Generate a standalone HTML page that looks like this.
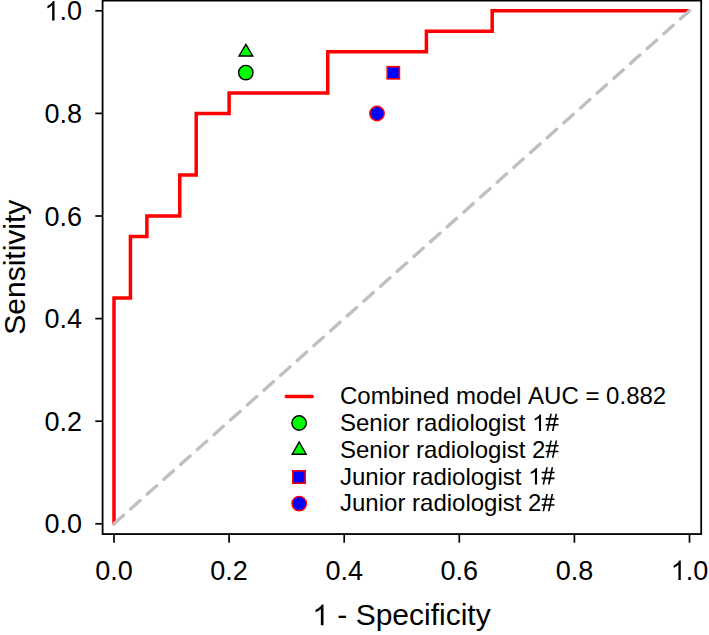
<!DOCTYPE html>
<html><head><meta charset="utf-8"><style>
html,body{margin:0;padding:0;background:#fff;}
body{width:709px;height:635px;overflow:hidden;}
svg{display:block;}
text{font-kerning:none;}
</style></head><body>
<svg width="709" height="635" viewBox="0 0 709 635">
<rect width="709" height="635" fill="#fff"/>
<polyline points="114.00,523.80 114.00,298.08 130.44,298.08 130.44,236.52 146.89,236.52 146.89,216.00 179.77,216.00 179.77,174.96 196.21,174.96 196.21,113.40 229.10,113.40 229.10,92.88 327.76,92.88 327.76,51.84 426.41,51.84 426.41,31.32 492.19,31.32 492.19,10.80 689.50,10.80" fill="none" stroke="#ff0000" stroke-width="3.5" stroke-linejoin="miter" stroke-linecap="butt"/>
<circle cx="114.00" cy="523.80" r="1.75" fill="#ff0000"/>
<line x1="114.00" y1="523.80" x2="689.50" y2="10.80" stroke="#c0c0c0" stroke-width="3.4" stroke-dasharray="12.6 9.72" stroke-linecap="round"/>
<rect x="102.6" y="0.6" width="598.6" height="533.45" fill="none" stroke="#000" stroke-width="1.8"/>
<line x1="95.3" y1="523.80" x2="102.6" y2="523.80" stroke="#000" stroke-width="1.7"/>
<line x1="114.00" y1="533.9" x2="114.00" y2="542.7" stroke="#000" stroke-width="1.7"/>
<g transform="translate(44.47,533.40) scale(1,1.04)"><text x="0" y="0" font-family="&quot;Liberation Sans&quot;, sans-serif" font-size="27" fill="#000">0.0</text></g>
<g transform="translate(95.23,579.90) scale(1,1.04)"><text x="0" y="0" font-family="&quot;Liberation Sans&quot;, sans-serif" font-size="27" fill="#000">0.0</text></g>
<line x1="95.3" y1="421.20" x2="102.6" y2="421.20" stroke="#000" stroke-width="1.7"/>
<line x1="229.10" y1="533.9" x2="229.10" y2="542.7" stroke="#000" stroke-width="1.7"/>
<g transform="translate(44.47,430.80) scale(1,1.04)"><text x="0" y="0" font-family="&quot;Liberation Sans&quot;, sans-serif" font-size="27" fill="#000">0.2</text></g>
<g transform="translate(210.33,579.90) scale(1,1.04)"><text x="0" y="0" font-family="&quot;Liberation Sans&quot;, sans-serif" font-size="27" fill="#000">0.2</text></g>
<line x1="95.3" y1="318.60" x2="102.6" y2="318.60" stroke="#000" stroke-width="1.7"/>
<line x1="344.20" y1="533.9" x2="344.20" y2="542.7" stroke="#000" stroke-width="1.7"/>
<g transform="translate(44.47,328.20) scale(1,1.04)"><text x="0" y="0" font-family="&quot;Liberation Sans&quot;, sans-serif" font-size="27" fill="#000">0.4</text></g>
<g transform="translate(325.43,579.90) scale(1,1.04)"><text x="0" y="0" font-family="&quot;Liberation Sans&quot;, sans-serif" font-size="27" fill="#000">0.4</text></g>
<line x1="95.3" y1="216.00" x2="102.6" y2="216.00" stroke="#000" stroke-width="1.7"/>
<line x1="459.30" y1="533.9" x2="459.30" y2="542.7" stroke="#000" stroke-width="1.7"/>
<g transform="translate(44.47,225.60) scale(1,1.04)"><text x="0" y="0" font-family="&quot;Liberation Sans&quot;, sans-serif" font-size="27" fill="#000">0.6</text></g>
<g transform="translate(440.53,579.90) scale(1,1.04)"><text x="0" y="0" font-family="&quot;Liberation Sans&quot;, sans-serif" font-size="27" fill="#000">0.6</text></g>
<line x1="95.3" y1="113.40" x2="102.6" y2="113.40" stroke="#000" stroke-width="1.7"/>
<line x1="574.40" y1="533.9" x2="574.40" y2="542.7" stroke="#000" stroke-width="1.7"/>
<g transform="translate(44.47,123.00) scale(1,1.04)"><text x="0" y="0" font-family="&quot;Liberation Sans&quot;, sans-serif" font-size="27" fill="#000">0.8</text></g>
<g transform="translate(555.63,579.90) scale(1,1.04)"><text x="0" y="0" font-family="&quot;Liberation Sans&quot;, sans-serif" font-size="27" fill="#000">0.8</text></g>
<line x1="95.3" y1="10.80" x2="102.6" y2="10.80" stroke="#000" stroke-width="1.7"/>
<line x1="689.50" y1="533.9" x2="689.50" y2="542.7" stroke="#000" stroke-width="1.7"/>
<g transform="translate(44.47,20.40) scale(1,1.04)"><text x="0" y="0" font-family="&quot;Liberation Sans&quot;, sans-serif" font-size="27" fill="#000"> .0</text><path d="M763 0L583 0L583 1097.9Q518 1038.6 465 1008.9Q412 979.2 359.5 949.5Q307 919.9 223 890.2L223 1056.8Q374 1124.7 430.5 1173.0Q487 1221.4 543.5 1269.7Q600 1318.1 647 1409.0L763 1409.0Z" fill="#000" transform="translate(0.00,0) scale(0.01318,-0.01318)"/></g>
<g transform="translate(670.73,579.90) scale(1,1.04)"><text x="0" y="0" font-family="&quot;Liberation Sans&quot;, sans-serif" font-size="27" fill="#000"> .0</text><path d="M763 0L583 0L583 1097.9Q518 1038.6 465 1008.9Q412 979.2 359.5 949.5Q307 919.9 223 890.2L223 1056.8Q374 1124.7 430.5 1173.0Q487 1221.4 543.5 1269.7Q600 1318.1 647 1409.0L763 1409.0Z" fill="#000" transform="translate(0.00,0) scale(0.01318,-0.01318)"/></g>
<g transform="translate(312.31,625.20) scale(1,1.0)"><text x="0" y="0" font-family="&quot;Liberation Sans&quot;, sans-serif" font-size="30" fill="#000">  - Specificity</text><path d="M763 0L583 0L583 1097.9Q518 1038.6 465 1008.9Q412 979.2 359.5 949.5Q307 919.9 223 890.2L223 1056.8Q374 1124.7 430.5 1173.0Q487 1221.4 543.5 1269.7Q600 1318.1 647 1409.0L763 1409.0Z" fill="#000" transform="translate(0.00,0) scale(0.01465,-0.01465)"/></g>
<text transform="translate(24.8,267.2) rotate(-90)" x="0" y="0" text-anchor="middle" font-family="&quot;Liberation Sans&quot;, sans-serif" font-size="30">Sensitivity</text>
<polygon points="245.90,44.30 252.80,56.00 239.00,56.00" fill="#00ff00" stroke="#000" stroke-width="1.4" stroke-linejoin="miter"/>
<circle cx="245.80" cy="72.60" r="7.2" fill="#00ff00" stroke="#000" stroke-width="1.4"/>
<rect x="387.20" y="66.70" width="12.2" height="12.2" fill="#0000ff" stroke="#ff0000" stroke-width="1.6"/>
<circle cx="377.00" cy="113.50" r="7.2" fill="#0000ff" stroke="#ff0000" stroke-width="1.4"/>
<line x1="286.3" y1="396.5" x2="312.2" y2="396.5" stroke="#ff0000" stroke-width="3.5" stroke-linecap="round"/>
<circle cx="299.10" cy="423.00" r="7.2" fill="#00ff00" stroke="#000" stroke-width="1.4"/>
<polygon points="299.20,442.00 306.20,454.20 292.20,454.20" fill="#00ff00" stroke="#000" stroke-width="1.4" stroke-linejoin="miter"/>
<rect x="292.80" y="470.80" width="12.4" height="12.4" fill="#0000ff" stroke="#ff0000" stroke-width="1.6"/>
<circle cx="299.20" cy="503.60" r="7.2" fill="#0000ff" stroke="#ff0000" stroke-width="1.4"/>
<g transform="translate(340.00,404.20) scale(1,1.0)"><text x="0" y="0" font-family="&quot;Liberation Sans&quot;, sans-serif" font-size="24" fill="#000">Combined model AUC = 0.882</text></g>
<g transform="translate(340.00,430.90) scale(1,1.0)"><text x="0" y="0" font-family="&quot;Liberation Sans&quot;, sans-serif" font-size="24" fill="#000">Senior radiologist   </text><path d="M763 0L583 0L583 1097.9Q518 1038.6 465 1008.9Q412 979.2 359.5 949.5Q307 919.9 223 890.2L223 1056.8Q374 1124.7 430.5 1173.0Q487 1221.4 543.5 1269.7Q600 1318.1 647 1409.0L763 1409.0Z" fill="#000" transform="translate(192.11,0) scale(0.01172,-0.01172)"/><path d="M21 455L1113 455L1113 595L21 595Z M21 954L1113 954L1113 1094L21 1094Z M92 0L232 0L548 1466L408 1466Z M553 0L693 0L1000 1466L860 1466Z" fill="#000" transform="translate(205.45,0) scale(0.01172,-0.01172)"/></g>
<g transform="translate(340.00,457.70) scale(1,1.0)"><text x="0" y="0" font-family="&quot;Liberation Sans&quot;, sans-serif" font-size="24" fill="#000">Senior radiologist 2 </text><path d="M21 455L1113 455L1113 595L21 595Z M21 954L1113 954L1113 1094L21 1094Z M92 0L232 0L548 1466L408 1466Z M553 0L693 0L1000 1466L860 1466Z" fill="#000" transform="translate(205.45,0) scale(0.01172,-0.01172)"/></g>
<g transform="translate(340.00,484.50) scale(1,1.0)"><text x="0" y="0" font-family="&quot;Liberation Sans&quot;, sans-serif" font-size="24" fill="#000">Junior radiologist   </text><path d="M763 0L583 0L583 1097.9Q518 1038.6 465 1008.9Q412 979.2 359.5 949.5Q307 919.9 223 890.2L223 1056.8Q374 1124.7 430.5 1173.0Q487 1221.4 543.5 1269.7Q600 1318.1 647 1409.0L763 1409.0Z" fill="#000" transform="translate(188.10,0) scale(0.01172,-0.01172)"/><path d="M21 455L1113 455L1113 595L21 595Z M21 954L1113 954L1113 1094L21 1094Z M92 0L232 0L548 1466L408 1466Z M553 0L693 0L1000 1466L860 1466Z" fill="#000" transform="translate(201.45,0) scale(0.01172,-0.01172)"/></g>
<g transform="translate(340.00,511.20) scale(1,1.0)"><text x="0" y="0" font-family="&quot;Liberation Sans&quot;, sans-serif" font-size="24" fill="#000">Junior radiologist 2 </text><path d="M21 455L1113 455L1113 595L21 595Z M21 954L1113 954L1113 1094L21 1094Z M92 0L232 0L548 1466L408 1466Z M553 0L693 0L1000 1466L860 1466Z" fill="#000" transform="translate(201.45,0) scale(0.01172,-0.01172)"/></g>
</svg>
</body></html>
